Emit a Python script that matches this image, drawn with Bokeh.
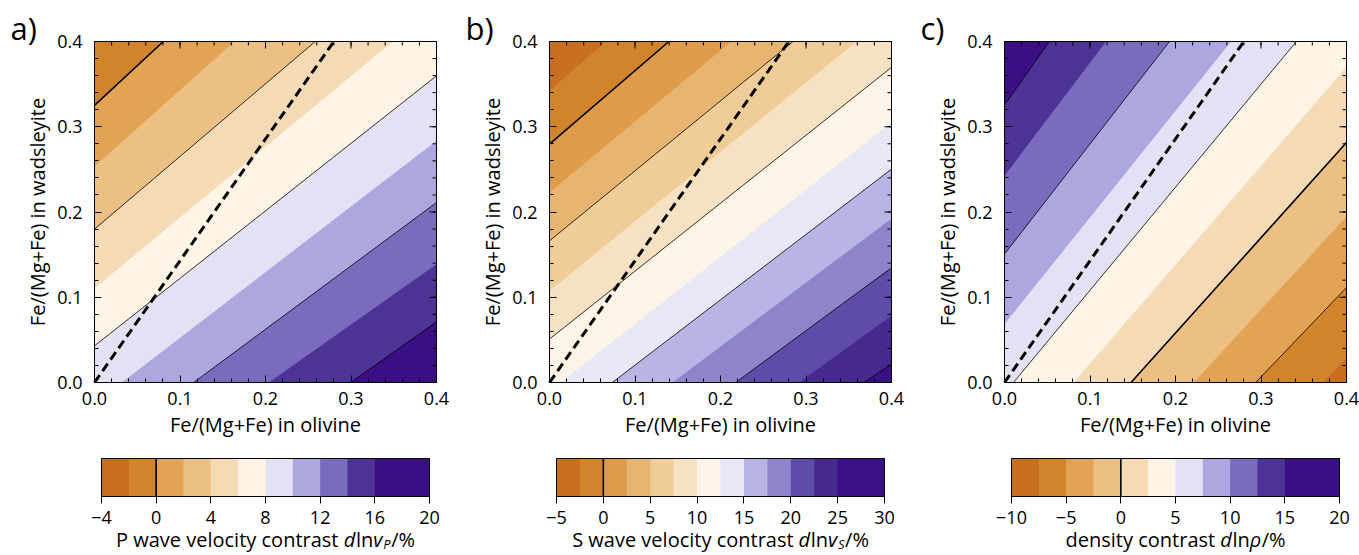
import numpy as np
from bokeh.plotting import figure
from bokeh.models import Range1d, FixedTicker, LinearAxis, PrintfTickFormatter, CustomJSTickFormatter
from bokeh.core.properties import value
from bokeh.layouts import row, column
from bokeh.embed import file_html
from bokeh.resources import INLINE

FONT = "Open Sans"

# ---------------- data ----------------
# Panel a: P wave velocity contrast (%)
a_levels = [-4, -2, 0, 2, 4, 6, 8, 10, 12, 14, 16, 18, 20]
a_colors = ["#c96f21", "#d2842a", "#e2a454", "#ecbf85", "#f5dab6", "#fdf4e6",
            "#e5e1f4", "#aca7de", "#7a6bbe", "#4d3395", "#3b0f84", "#3b0f84"]
a_bound_level = [0, 2, 4, 6, 8, 10, 12, 14, 16]
a_bound_x0 = [0.0, 0.0, 0.0, 0.0, 0.0, 0.032, 0.116, 0.2039, 0.2996]
a_bound_y0 = [0.325, 0.2534, 0.1799, 0.1107, 0.043, 0.0, 0.0, 0.0, 0.0]
a_bound_x1 = [0.0805, 0.1637, 0.2582, 0.349, 0.4, 0.4, 0.4, 0.4, 0.4]
a_bound_y1 = [0.4, 0.4, 0.4, 0.4, 0.3597, 0.2835, 0.2111, 0.1388, 0.0711]
a_line_levels = [0, 4, 8, 12, 16]
a_cbar_ticks = [-4, 0, 4, 8, 12, 16, 20]

# Panel b: S wave velocity contrast (%)
b_levels = [-5, -2.5, 0, 2.5, 5, 7.5, 10, 12.5, 15, 17.5, 20, 22.5, 25, 27.5, 30]
b_colors = ["#c96f21", "#d2842a", "#de9c4a", "#e8b570", "#efcc98", "#f6e1c2", "#fdf4e8",
            "#e8e7f5", "#b8b5e4", "#8d84ca", "#5f4ca8", "#46288f", "#3a1086", "#3a1086"]
b_bound_level = [-2.5, 0, 2.5, 5, 7.5, 10, 12.5, 15, 17.5, 20, 22.5, 25]
b_bound_x0 = [0.0, 0.0, 0.0, 0.0, 0.0, 0.0, 0.0129, 0.0734, 0.144, 0.2177, 0.2919, 0.368]
b_bound_y0 = [0.3422, 0.2796, 0.2229, 0.1662, 0.1076, 0.0509, 0.0, 0.0, 0.0, 0.0, 0.0, 0.0]
b_bound_x1 = [0.066, 0.1397, 0.2127, 0.2848, 0.359, 0.4, 0.4, 0.4, 0.4, 0.4, 0.4, 0.4]
b_bound_y1 = [0.4, 0.4, 0.4, 0.4, 0.4, 0.3697, 0.305, 0.2503, 0.1922, 0.1346, 0.0782, 0.0216]
b_line_levels = [0, 5, 10, 15, 20, 25]
b_cbar_ticks = [-5, 0, 5, 10, 15, 20, 25, 30]

# Panel c: density contrast (%)
c_levels = [-10, -7.5, -5, -2.5, 0, 2.5, 5, 7.5, 10, 12.5, 15, 17.5, 20]
c_colors = ["#c96f21", "#d2842a", "#e2a454", "#ecbf85", "#f5dab6", "#fdf4e6",
            "#e5e1f4", "#aca7de", "#7a6bbe", "#4d3395", "#3b0f84", "#3b0f84"]
c_bound_level = [-7.5, -5, -2.5, 0, 2.5, 5, 7.5, 10, 12.5, 15]
c_bound_x0 = [0.3719, 0.2937, 0.2214, 0.148, 0.0809, 0.0105, 0.0, 0.0, 0.0, 0.0]
c_bound_y0 = [0.0, 0.0, 0.0, 0.0, 0.0, 0.0, 0.0685, 0.1506, 0.2425, 0.3254]
c_bound_x1 = [0.4, 0.4, 0.4, 0.4, 0.4, 0.3414, 0.265, 0.193, 0.1188, 0.0524]
c_bound_y1 = [0.0283, 0.1114, 0.1946, 0.2815, 0.37, 0.4, 0.4, 0.4, 0.4, 0.4]
c_line_levels = [-5, 0, 5, 10, 15]
c_cbar_ticks = [-10, -5, 0, 5, 10, 15, 20]

# dashed reference line (same in all panels)
dash_x = [0.0, 0.28]
dash_y = [0.0, 0.4]

axis_lo, axis_hi = 0.0, 0.4
axis_ticks = [0.0, 0.1, 0.2, 0.3, 0.4]
axis_minor = [0.02 * i for i in range(21)]

# colour-bar titles: (text, style) pieces
a_title = [("P wave velocity contrast ", "normal"), ("d", "italic"), ("ln", "normal"),
           ("v", "italic"), ("P", "sub"), ("/%", "normal")]
b_title = [("S wave velocity contrast ", "normal"), ("d", "italic"), ("ln", "normal"),
           ("v", "italic"), ("S", "sub"), ("/%", "normal")]
c_title = [("density contrast ", "normal"), ("d", "italic"), ("ln", "normal"),
           ("\u03c1", "italic"), ("/%", "normal")]

# ---------------- helpers ----------------
W_EM = {" ": 0.26, "%": 0.82, "/": 0.367, "P": 0.608, "S": 0.536, "a": 0.556, "c": 0.476,
        "d": 0.613, "e": 0.561, "i": 0.253, "l": 0.253, "n": 0.614, "o": 0.604, "r": 0.408,
        "s": 0.477, "t": 0.353, "v": 0.501, "w": 0.778, "y": 0.502, "\u03c1": 0.593}
BASE_FIX = 0.3   # empirical shift (em) of the rendered alphabetic baseline


def text_w(s, size):
    return sum(W_EM.get(ch, 0.56) for ch in s) * size


def clip(poly, p0, p1, keep):
    def side(q):
        return (p1[0] - p0[0]) * (q[1] - p0[1]) - (p1[1] - p0[1]) * (q[0] - p0[0])
    sg = 1.0 if side(keep) > 0 else -1.0
    out = []
    n = len(poly)
    for i in range(n):
        a = poly[i]
        b = poly[(i + 1) % n]
        sa = side(a) * sg
        sb = side(b) * sg
        if sa >= 0:
            out.append(a)
        if (sa >= 0) != (sb >= 0):
            t = sa / (sa - sb)
            out.append((a[0] + t * (b[0] - a[0]), a[1] + t * (b[1] - a[1])))
    return out


def style_axis(ax):
    ax.axis_line_color = "black"
    ax.axis_line_width = 1
    ax.major_tick_line_color = "black"
    ax.minor_tick_line_color = "black"
    ax.major_tick_in = 7
    ax.major_tick_out = 0
    ax.minor_tick_in = 4
    ax.minor_tick_out = 0
    ax.bounds = (axis_lo, axis_hi)
    ax.major_label_text_font = FONT
    ax.major_label_text_font_size = "18px"
    ax.major_label_text_color = "black"
    ax.axis_label_text_font = FONT
    ax.axis_label_text_font_size = "20px"
    ax.axis_label_text_font_style = "normal"
    ax.axis_label_text_color = "black"


# geometry of the page (pixels)
PL, PW, PT, PH, FH = 94, 342, 41, 341, 440   # main panel: left border, frame w, top border, frame h, fig h


def make_panel(levels, colors, bl, bx0, by0, bx1, by1, line_levels, high, letter, width):
    sx = (axis_hi - axis_lo) / PW
    sy = (axis_hi - axis_lo) / PH
    xr = Range1d(axis_lo - PL * sx, axis_hi + (width - PL - PW) * sx)
    yr = Range1d(axis_lo - (FH - PT - PH) * sy, axis_hi + PT * sy)
    p = figure(width=width, height=FH, x_range=xr, y_range=yr,
               output_backend="svg", toolbar_location=None,
               x_axis_location=None, y_axis_location=None,
               min_border_left=0, min_border_right=0, min_border_top=0, min_border_bottom=0)
    p.grid.visible = False
    p.outline_line_color = None
    p.background_fill_color = "white"
    p.border_fill_color = "white"

    square = [(axis_lo, axis_lo), (axis_hi, axis_lo), (axis_hi, axis_hi), (axis_lo, axis_hi)]
    xs, ys, fc = [], [], []
    base = levels.index(bl[0]) - 1
    xs.append([q[0] for q in square])
    ys.append([q[1] for q in square])
    fc.append(colors[base])
    for k, L in enumerate(bl):
        poly = clip(square, (bx0[k], by0[k]), (bx1[k], by1[k]), high)
        xs.append([q[0] for q in poly])
        ys.append([q[1] for q in poly])
        fc.append(colors[levels.index(L)])
    p.patches(xs, ys, fill_color=fc, line_color=None)

    sel = [k for k, L in enumerate(bl) if L in line_levels]
    p.segment(x0=[bx0[k] for k in sel], y0=[by0[k] for k in sel],
              x1=[bx1[k] for k in sel], y1=[by1[k] for k in sel],
              line_color="black", line_width=[1.6 if bl[k] == 0 else 0.8 for k in sel])
    p.line(dash_x, dash_y, line_color="black", line_width=3, line_dash="9 5")

    # frame
    p.quad(left=[axis_lo], right=[axis_hi], bottom=[axis_lo], top=[axis_hi],
           fill_color=None, line_color="black", line_width=1)

    tk = FixedTicker(ticks=axis_ticks, minor_ticks=axis_minor)
    xa = LinearAxis(ticker=tk, formatter=PrintfTickFormatter(format="%.1f"),
                    axis_label="Fe/(Mg+Fe) in olivine", fixed_location=axis_lo)
    ya = LinearAxis(ticker=tk, formatter=PrintfTickFormatter(format="%.1f"),
                    axis_label="Fe/(Mg+Fe) in wadsleyite", fixed_location=axis_lo)
    style_axis(xa)
    style_axis(ya)
    xa.major_label_standoff = 9
    xa.axis_label_standoff = 3
    ya.major_label_standoff = 12
    ya.axis_label_standoff = 3
    p.add_layout(xa, "below")
    p.add_layout(ya, "left")

    # inward ticks on the top and right edges
    for vals, ln in ((axis_ticks, 7), (axis_minor, 4)):
        p.segment(x0=vals, y0=[axis_hi] * len(vals), x1=vals, y1=[axis_hi - ln * sy] * len(vals),
                  line_color="black", line_width=1)
        p.segment(x0=[axis_hi] * len(vals), y0=vals, x1=[axis_hi - ln * sx] * len(vals), y1=vals,
                  line_color="black", line_width=1)

    fs = 31
    p.text(x=[axis_lo - (PL - 10) * sx], y=[axis_hi + (PT - 37 + BASE_FIX * fs) * sy], text=[letter],
           text_font=value(FONT), text_font_size=value("%dpx" % fs), text_align=value("left"),
           text_baseline=value("alphabetic"), text_color="black")
    return p


CT, CH, CFH = 18, 38, 115   # colour bar: top border, bar height, fig height


def make_cbar(levels, colors, ticks, width, lb, bw, title):
    span = levels[-1] - levels[0]
    sx = span / bw
    sy = 1.0 / CH
    xr = Range1d(levels[0] - lb * sx, levels[-1] + (width - lb - bw) * sx)
    yr = Range1d(-(CFH - CT - CH) * sy, 1 + CT * sy)
    p = figure(width=width, height=CFH, x_range=xr, y_range=yr,
               output_backend="svg", toolbar_location=None,
               x_axis_location=None, y_axis_location=None,
               min_border_left=0, min_border_right=0, min_border_top=0, min_border_bottom=0)
    p.grid.visible = False
    p.outline_line_color = None
    p.border_fill_color = "white"
    p.background_fill_color = "white"
    n = len(colors)
    p.quad(left=levels[:n], right=[levels[-1]] * n, bottom=0, top=1, fill_color=colors, line_color=None)
    p.quad(left=[levels[0]], right=[levels[-1]], bottom=0, top=1, fill_color=None,
           line_color="black", line_width=1)
    p.segment(x0=[0], y0=[0], x1=[0], y1=[1], line_color="black", line_width=1.6)

    ax = LinearAxis(ticker=FixedTicker(ticks=ticks, minor_ticks=[]), fixed_location=0,
                    formatter=CustomJSTickFormatter(code="return tick < 0 ? '\u2212' + (-tick) : '' + tick"))
    ax.bounds = (levels[0], levels[-1])
    ax.axis_line_color = "black"
    ax.major_tick_line_color = "black"
    ax.major_tick_in = 0
    ax.major_tick_out = 7
    ax.major_label_standoff = 7
    ax.major_label_text_font = FONT
    ax.major_label_text_font_size = "18px"
    ax.major_label_text_color = "black"
    p.add_layout(ax, "below")

    size = 20
    sub = 13
    total = sum(text_w(t, sub if st == "sub" else size) for t, st in title)
    xpx = bw / 2 - total / 2
    base_y = (-49 + BASE_FIX * size) * sy
    for t, st in title:
        if st == "sub":
            p.text(x=[levels[0] + xpx * sx], y=[base_y - 4 * sy], text=[t],
                   text_font=value(FONT), text_font_size=value("%dpx" % sub),
                   text_font_style=value("italic"), text_align=value("left"),
                   text_baseline=value("alphabetic"), text_color="black")
            xpx += text_w(t, sub)
        else:
            p.text(x=[levels[0] + xpx * sx], y=[base_y], text=[t],
                   text_font=value(FONT), text_font_size=value("%dpx" % size),
                   text_font_style=value(st), text_align=value("left"),
                   text_baseline=value("alphabetic"), text_color="black")
            xpx += text_w(t, size)
    return p


pa = make_panel(a_levels, a_colors, a_bound_level, a_bound_x0, a_bound_y0, a_bound_x1, a_bound_y1,
                a_line_levels, (0.4, 0.0), "a)", 455)
pb = make_panel(b_levels, b_colors, b_bound_level, b_bound_x0, b_bound_y0, b_bound_x1, b_bound_y1,
                b_line_levels, (0.4, 0.0), "b)", 455)
pc = make_panel(c_levels, c_colors, c_bound_level, c_bound_x0, c_bound_y0, c_bound_x1, c_bound_y1,
                c_line_levels, (0.0, 0.4), "c)", 449)

ca = make_cbar(a_levels, a_colors, a_cbar_ticks, 455, 101, 328, a_title)
cb = make_cbar(b_levels, b_colors, b_cbar_ticks, 455, 101, 328, b_title)
cc = make_cbar(c_levels, c_colors, c_cbar_ticks, 449, 101, 328, c_title)

layout = row(column(pa, ca), column(pb, cb), column(pc, cc))
open("out.html", "w").write(file_html(layout, INLINE))
